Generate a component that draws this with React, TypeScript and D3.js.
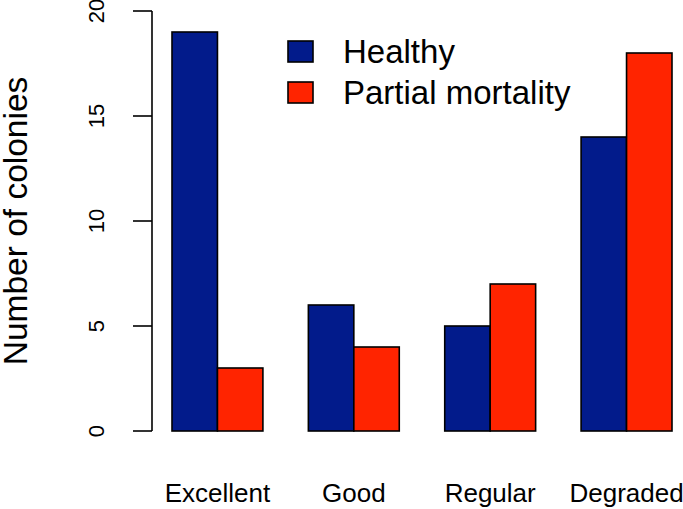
import React from "react";
import * as d3 from "d3";

const categories = ["Excellent", "Good", "Regular", "Degraded"];
const seriesNames = ["Healthy", "Partial mortality"];
const healthy = [19, 6, 5, 14];
const partial = [3, 4, 7, 18];
const yTicks = [0, 5, 10, 15, 20];
const colors = ["#021B8B", "#FF2400"];

export default function App() {
  const W = 683;
  const H = 509;
  const x = d3.scaleLinear().domain([1, 12]).range([172, 672]);
  const y = d3.scaleLinear().domain([0, 20]).range([431, 11]);
  const series = [healthy, partial];
  const font = "'Liberation Sans', Arial, Helvetica, sans-serif";
  const axisX = 152;

  return (
    <svg
      width={W}
      height={H}
      style={{ position: "absolute", left: 0, top: 0, background: "#fff" }}
      fontFamily={font}
    >
      {categories.map((c, i) =>
        series.map((s, j) => {
          const x0 = x(1 + 3 * i + j);
          const x1 = x(2 + 3 * i + j);
          return (
            <rect
              key={c + j}
              x={x0}
              y={y(s[i])}
              width={x1 - x0}
              height={y(0) - y(s[i])}
              fill={colors[j]}
              stroke="#000"
              strokeWidth={1.6}
            />
          );
        })
      )}
      {/* y axis */}
      <line x1={axisX} x2={axisX} y1={y(0)} y2={y(20)} stroke="#000" strokeWidth={1.6} />
      {yTicks.map((t) => (
        <g key={t}>
          <line x1={axisX - 19} x2={axisX} y1={y(t)} y2={y(t)} stroke="#000" strokeWidth={1.6} />
          <text
            transform={`translate(104,${y(t)}) rotate(-90)`}
            textAnchor="middle"
            fontSize={22}
            fill="#000"
          >
            {t}
          </text>
        </g>
      ))}
      <text
        transform={`translate(27,${(y(0) + y(20)) / 2}) rotate(-90)`}
        textAnchor="middle"
        fontSize={33.5}
        fill="#000"
      >
        Number of colonies
      </text>
      {/* category labels */}
      {categories.map((c, i) => (
        <text key={c} x={x(2 + 3 * i)} y={502} textAnchor="middle" fontSize={26} fill="#000">
          {c}
        </text>
      ))}
      {/* legend */}
      {seriesNames.map((n, j) => (
        <g key={n}>
          <rect
            x={288}
            y={41 + j * 41}
            width={25}
            height={21}
            fill={colors[j]}
            stroke="#000"
            strokeWidth={1.6}
          />
          <text x={343} y={63 + j * 41} fontSize={33} fill="#000">
            {n}
          </text>
        </g>
      ))}
    </svg>
  );
}
